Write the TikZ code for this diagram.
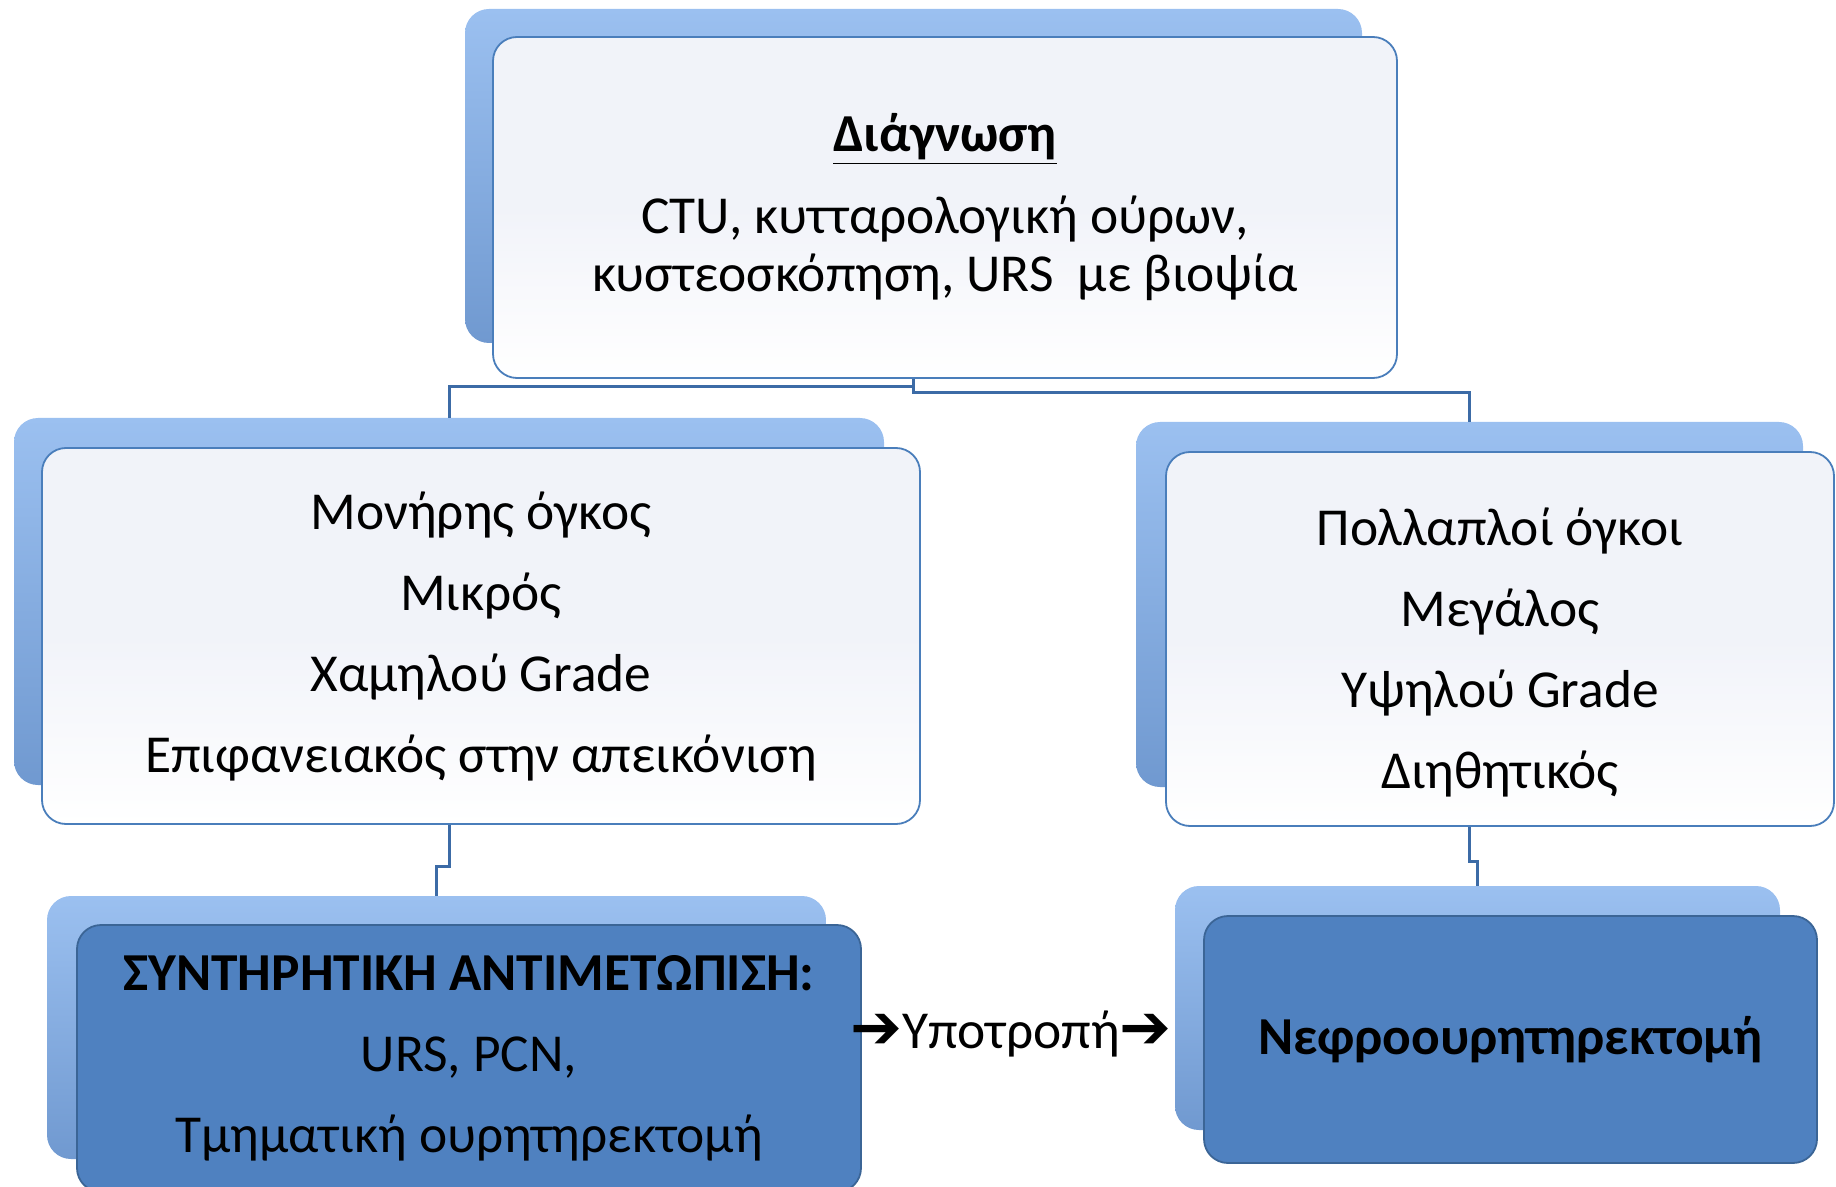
\documentclass[tikz,border=0pt]{standalone}
\usepackage{fontspec}
\setmainfont{Carlito}
\newfontfamily\arrowfont{DejaVu Sans}
\usepackage{xcolor}
\definecolor{malline}{HTML}{4A7EBB}
\definecolor{malpale}{HTML}{F1F3F9}
\definecolor{mallight}{HTML}{9BC0F0}
\definecolor{malback}{HTML}{7099D0}
\definecolor{maldark}{HTML}{4F81C0}
\definecolor{mallink}{HTML}{3C6BA6}
\tikzset{
  backbox/.style={rounded corners=12pt, top color=mallight, bottom color=malback, inner sep=0pt},
  palebox/.style={rounded corners=12pt, draw=malline, line width=0.9pt, top color=malpale, bottom color=white, middle color=malpale, align=center, inner sep=0pt, font=\fontsize{26.7}{40.5}\selectfont},
  darkbox/.style={rounded corners=12pt, draw=malline!80!black, line width=0.9pt, fill=maldark, align=center, inner sep=0pt, font=\fontsize{26.7}{40.5}\selectfont},
  link/.style={draw=mallink, line width=1.5pt}
}
\begin{document}
\begin{tikzpicture}[x=0.5pt,y=-0.5pt]
  \useasboundingbox (0,0) rectangle (1836,1187);
  \node[backbox, minimum width=448.5pt, minimum height=167pt] (topback) at (913.5,176) {};
  \node[backbox, minimum width=435pt, minimum height=183.5pt] (leftback) at (449,601.5) {};
  \node[backbox, minimum width=333.5pt, minimum height=182.5pt] (rightback) at (1469.5,604.5) {};
  \node[backbox, minimum width=389.5pt, minimum height=131.5pt] (consback) at (436.5,1027.5) {};
  \node[backbox, minimum width=302.5pt, minimum height=122pt] (nephback) at (1477.5,1008) {};
  \draw[link] (topback.south) -- ++(0,43) -| (leftback.north);
  \draw[link] (topback.south) -- ++(0,49) -| (rightback.north);
  \draw[link] (leftback.south) -- ++(0,81) -| (consback.north);
  \draw[link] (rightback.south) -- ++(0,74) -| (nephback.north);
  \node[palebox, minimum width=452pt, minimum height=170.5pt, font=\fontsize{26.7}{29}\selectfont] (diag) at (945,207.5)
    {\underline{\textbf{Διάγνωση}}\\[12pt] CTU, κυτταρολογική ούρων,\\ κυστεοσκόπηση, URS\ \ με βιοψία};
  \node[palebox, minimum width=439pt, minimum height=188pt] (single) at (481,636)
    {Μονήρης όγκος\\ Μικρός\\ Χαμηλού Grade\\ Επιφανειακός στην απεικόνιση};
  \node[palebox, minimum width=334pt, minimum height=187pt] (multi) at (1500,639)
    {\rule{0pt}{32pt}Πολλαπλοί όγκοι\\ Μεγάλος\\ Υψηλού Grade\\ Διηθητικός};
  \node[darkbox, minimum width=392pt, minimum height=133.5pt] (cons) at (469,1058.5)
    {\textbf{ΣΥΝΤΗΡΗΤΙΚΗ ΑΝΤΙΜΕΤΩΠΙΣΗ:}\\ URS, PCN,\\ Τμηματική ουρητηρεκτομή};
  \node[darkbox, minimum width=306.5pt, minimum height=123.5pt] (neph) at (1510.5,1039.5)
    {\textbf{Νεφροουρητηρεκτομή}};
  \node[inner sep=0pt, font=\fontsize{26.7}{30}\selectfont] (relapse) at (1011,1034)
    {{\arrowfont\bfseries\fontsize{31}{30}\selectfont ➔}Υποτροπή{\arrowfont\bfseries\fontsize{31}{30}\selectfont ➔}};
\end{tikzpicture}
\end{document}
